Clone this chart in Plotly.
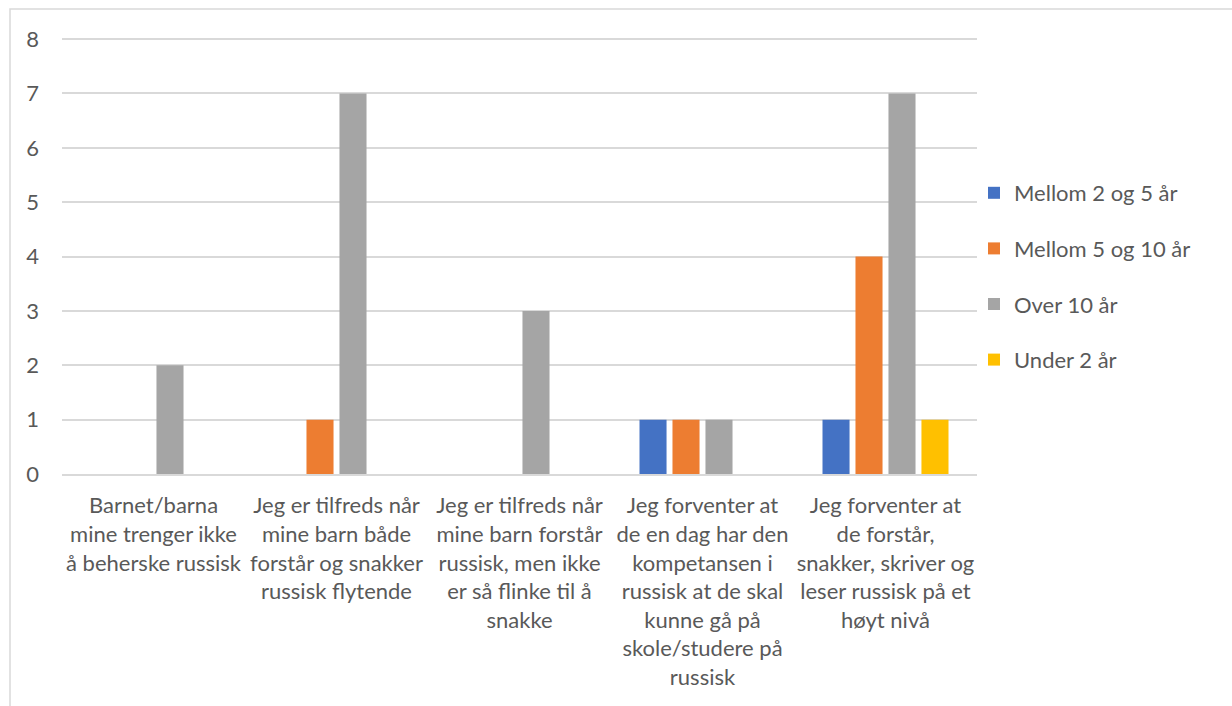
import plotly.graph_objects as go

categories = [
    "Barnet/barna<br>mine trenger ikke<br>å beherske russisk",
    "Jeg er tilfreds når<br>mine barn både<br>forstår og snakker<br>russisk flytende",
    "Jeg er tilfreds når<br>mine barn forstår<br>russisk, men ikke<br>er så flinke til å<br>snakke",
    "Jeg forventer at<br>de en dag har den<br>kompetansen i<br>russisk at de skal<br>kunne gå på<br>skole/studere på<br>russisk",
    "Jeg forventer at<br>de forstår,<br>snakker, skriver og<br>leser russisk på et<br>høyt nivå",
]

series_names = ["Mellom 2 og 5 år", "Mellom 5 og 10 år", "Over 10 år", "Under 2 år"]
mellom_2_5 = [0, 0, 0, 1, 1]
mellom_5_10 = [0, 1, 0, 1, 4]
over_10 = [2, 7, 3, 1, 7]
under_2 = [0, 0, 0, 0, 1]
series_values = [mellom_2_5, mellom_5_10, over_10, under_2]
series_colors = ["#4472C4", "#ED7D31", "#A5A5A5", "#FFC000"]

y_ticks = [0, 1, 2, 3, 4, 5, 6, 7, 8]

FONT = "Lato, Carlito, Calibri, sans-serif"
TEXT = "#595959"
GRID = "#D9D9D9"
FS = 22

fig = go.Figure()
for i, (name, vals, col) in enumerate(zip(series_names, series_values, series_colors)):
    fig.add_trace(go.Bar(
        x=categories, y=vals, name=name,
        marker=dict(color=col, line=dict(width=0)),
        legendgroup=f"g{i}",
        hoverinfo="x+y+name",
    ))

W, H = 1232, 706
ml, mr, mt, mb = 62, 255, 38, 232
pw, ph = W - ml - mr, H - mt - mb


def px_x(p):
    return (p - ml) / pw


def px_y(p):
    return (H - mb - p) / ph


fig.update_layout(
    width=W, height=H,
    margin=dict(l=ml, r=mr, t=mt, b=mb, pad=0),
    paper_bgcolor="white", plot_bgcolor="white",
    barmode="group", bargap=0.279, bargroupgap=0.18,
    font=dict(family=FONT, size=FS, color=TEXT),
    showlegend=True,
    legend=dict(
        x=px_x(974), y=px_y(172), xanchor="left", yanchor="top",
        font=dict(family=FONT, size=FS, color=TEXT),
        tracegroupgap=24, itemsizing="constant",
        bgcolor="rgba(0,0,0,0)",
    ),
    xaxis=dict(
        showgrid=False, showline=True, linecolor=GRID, linewidth=2,
        ticks="", tickfont=dict(family=FONT, size=FS, color=TEXT),
        ticklabelstandoff=11, tickangle=0, fixedrange=True,
    ),
    yaxis=dict(
        range=[0, 8.02], tickvals=y_ticks, ticktext=[str(v) for v in y_ticks],
        showgrid=True, gridcolor=GRID, gridwidth=1.5,
        zeroline=False, showline=False, ticks="",
        tickfont=dict(family=FONT, size=FS, color=TEXT),
        ticklabelstandoff=22, fixedrange=True,
    ),
    shapes=[
        dict(type="rect", xref="paper", yref="paper",
             x0=px_x(10), x1=px_x(1260), y0=px_y(740), y1=px_y(9),
             line=dict(color=GRID, width=1.5), fillcolor="rgba(0,0,0,0)",
             layer="below"),
    ],
)

fig.write_html("out.html")
